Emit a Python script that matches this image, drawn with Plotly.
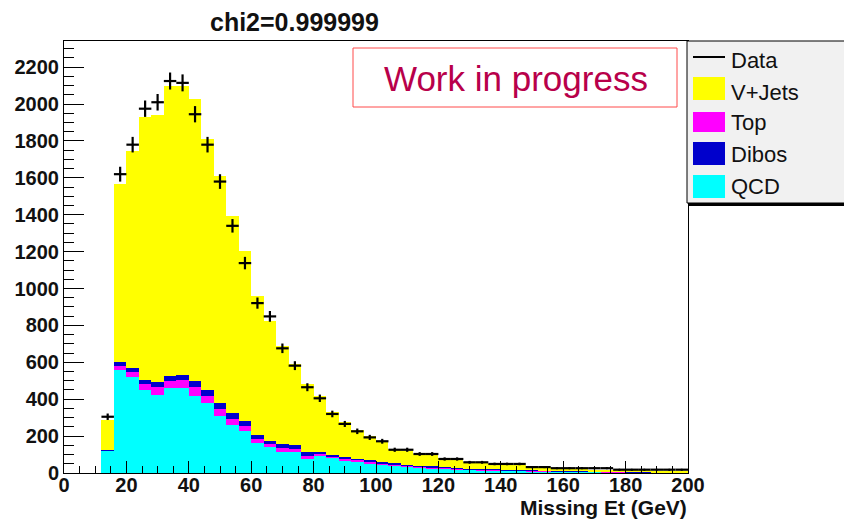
import plotly.graph_objects as go

# Bin centres (GeV), 4 GeV wide bins from 12 to 200
bin_centers = [14, 18, 22, 26, 30, 34, 38, 42, 46, 50, 54, 58, 62, 66, 70, 74, 78, 82,
               86, 90, 94, 98, 102, 106, 110, 114, 118, 122, 126, 130, 134, 138, 142,
               146, 150, 154, 158, 162, 166, 170, 174, 178, 182, 186, 190, 194, 198]
bin_half_width = 2

qcd = [120, 560, 519, 452, 425, 459, 459, 419, 380, 311, 260, 230, 161, 139, 112, 115, 76, 90,
       80, 70, 62, 54, 46, 40, 35, 30, 27, 24, 20, 18, 16, 14, 12,
       11, 10, 9, 8, 7, 6, 6, 5, 5, 4, 4, 3, 3, 3]
top = [2, 22, 26, 30, 40, 41, 47, 46, 39, 36, 33, 27, 23, 18, 22, 15, 18, 13,
       11, 10, 9, 8, 8, 7, 6, 5, 5, 4, 4, 3, 3, 3, 3,
       2, 2, 2, 2, 2, 2, 1, 1, 1, 1, 1, 1, 1, 1]
dibos = [2, 21, 22, 22, 26, 27, 25, 35, 31, 33, 32, 27, 22, 18, 23, 23, 18, 12,
         9, 8, 7, 6, 6, 5, 4, 5, 4, 4, 4, 3, 3, 3, 2,
         2, 2, 2, 2, 1, 1, 1, 1, 1, 1, 1, 1, 1, 1]
vjets = [166, 963, 1178, 1426, 1449, 1572, 1568, 1527, 1360, 1231, 1070, 921, 755, 650, 533, 438, 370, 304,
         230, 187, 154, 130, 110, 76, 77, 65, 64, 48, 47, 34, 33, 28, 31,
         31, 18, 17, 12, 12, 11, 11, 11, 8, 8, 7, 7, 7, 6]
data = [305, 1620, 1780, 1975, 2010, 2125, 2115, 1945, 1780, 1580, 1340, 1138, 921, 849, 676, 582, 465, 405,
        320, 266, 226, 193, 172, 126, 126, 103, 103, 76, 76, 58, 58, 49, 49,
        49, 32, 32, 26, 26, 26, 26, 26, 18, 18, 18, 18, 18, 18]

x_ticks = [0, 20, 40, 60, 80, 100, 120, 140, 160, 180, 200]
y_ticks = [0, 200, 400, 600, 800, 1000, 1200, 1400, 1600, 1800, 2000, 2200]

series = [("QCD", qcd, "#00ffff"), ("Top", top, "#ff00ff"),
          ("Dibos", dibos, "#0000cc"), ("V+Jets", vjets, "#ffff00")]

fig = go.Figure()
for name, vals, col in series:
    fig.add_trace(go.Bar(x=bin_centers, y=vals, width=2 * bin_half_width, name=name,
                         marker=dict(color=col, line=dict(width=0)), showlegend=False))

fig.add_trace(go.Scatter(x=bin_centers, y=data, mode="markers", name="Data", showlegend=False,
                         marker=dict(size=2, color="black"),
                         error_x=dict(type="constant", value=bin_half_width, width=0,
                                      thickness=2.2, color="black"),
                         error_y=dict(type="sqrt", width=0, thickness=2.2, color="black")))

W, H = 844, 520
L, R, T, B = 64, 688, 41, 473

def px(xp):
    return (xp - L) / (R - L)

def py(yp):
    return (B - yp) / (B - T)

tickfont = dict(family="Liberation Sans", size=20, color="#111", weight="bold")

fig.update_layout(
    width=W, height=H,
    margin=dict(l=L, r=W - R, t=T, b=H - B),
    barmode="stack", bargap=0,
    plot_bgcolor="white", paper_bgcolor="white",
    xaxis=dict(range=[0, 200], tickvals=x_ticks, ticks="inside", ticklen=12,
               tickcolor="black", showgrid=False, zeroline=False,
               showline=True, linecolor="black", linewidth=1, mirror=True,
               tickfont=tickfont, ticklabelstandoff=-6,
               minor=dict(dtick=5, ticks="inside", ticklen=7, tickcolor="black", showgrid=False)),
    yaxis=dict(range=[0, 2342], tickvals=y_ticks, ticks="inside", ticklen=20,
               tickcolor="black", showgrid=False, zeroline=False,
               showline=True, linecolor="black", linewidth=1, mirror=True,
               tickfont=tickfont,
               minor=dict(dtick=50, ticks="inside", ticklen=10, tickcolor="black", showgrid=False)),
)

shapes = []
annotations = []

def text(t, x, y, size, color="#111", xanchor="center"):
    annotations.append(dict(text=t, xref="paper", yref="paper", x=px(x), y=py(y),
                            xanchor=xanchor, yanchor="middle", showarrow=False,
                            font=dict(family="Liberation Sans", size=size, color=color)))

# title
text("<b>chi2=0.999999</b>", 294, 22, 25)
# x axis title
text("<b>Missing Et (GeV)</b>", 689, 507, 21, xanchor="right")

# Work in progress box
shapes.append(dict(type="rect", xref="paper", yref="paper",
                   x0=px(353), x1=px(677), y0=py(107), y1=py(48),
                   line=dict(color="#ff4a4a", width=1), fillcolor="white", layer="above"))
text("Work in progress", 516, 78, 35, color="#b8004a")

# Legend (drawn manually)
shapes.append(dict(type="rect", xref="paper", yref="paper",
                   x0=px(689), x1=px(850), y0=py(206), y1=py(44),
                   line=dict(width=0), fillcolor="black", layer="above"))
shapes.append(dict(type="rect", xref="paper", yref="paper",
                   x0=px(687), x1=px(850), y0=py(203), y1=py(41),
                   line=dict(color="black", width=1), fillcolor="#f1f1f1", layer="above"))
shapes.append(dict(type="line", xref="paper", yref="paper",
                   x0=px(693), x1=px(725), y0=py(57), y1=py(57),
                   line=dict(color="black", width=2), layer="above"))
text("Data", 729, 61, 22, xanchor="left")
leg_rows = [("V+Jets", "#ffff00", 77, 100, 92), ("Top", "#ff00ff", 112, 132, 123),
            ("Dibos", "#0000cc", 142, 165, 155), ("QCD", "#00ffff", 175, 198, 187)]
for name, col, y0, y1, yc in leg_rows:
    shapes.append(dict(type="rect", xref="paper", yref="paper",
                       x0=px(693), x1=px(725), y0=py(y1), y1=py(y0),
                       line=dict(width=0), fillcolor=col, layer="above"))
    text(name, 729, yc, 22, xanchor="left")

fig.update_layout(shapes=shapes, annotations=annotations)
fig.write_html("out.html")
